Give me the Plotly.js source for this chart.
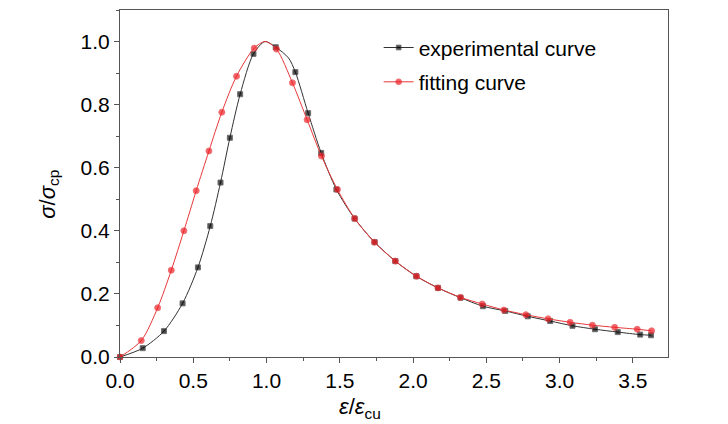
<!DOCTYPE html>
<html>
<head>
<meta charset="utf-8">
<script src="https://cdn.plot.ly/plotly-3.0.1.min.js"></script>
<style>
  html, body { margin: 0; padding: 0; background: #fff; }
  #myDiv { width: 728px; height: 424px; }
</style>
</head>
<body>
<div id="myDiv"></div>
<script>
// experimental curve (black squares); x values listed in lineOnly carry no marker
var expX = [0, 0.155, 0.30, 0.427, 0.532, 0.616, 0.686, 0.75, 0.82, 0.911, 0.99, 1.063, 1.15, 1.197,
            1.284, 1.373, 1.477, 1.601, 1.738, 1.879, 2.022, 2.17, 2.324, 2.477, 2.629, 2.783,
            2.936, 3.088, 3.242, 3.397, 3.55, 3.624];
var expY = [0, 0.028, 0.082, 0.17, 0.284, 0.415, 0.553, 0.695, 0.833, 0.961, 1.0, 0.982, 0.948, 0.903,
            0.773, 0.647, 0.531, 0.439, 0.364, 0.304, 0.256, 0.219, 0.188, 0.161, 0.146, 0.129,
            0.114, 0.099, 0.088, 0.079, 0.071, 0.069];
var expLineOnly = [0.99, 1.15];

// fitting curve (red circles)
var fitX = [0, 0.145, 0.257, 0.35, 0.436, 0.52, 0.607, 0.695, 0.795, 0.916, 0.99, 1.068, 1.177,
            1.277, 1.375, 1.484, 1.602, 1.736, 1.879, 2.024, 2.17, 2.324, 2.472, 2.62, 2.77,
            2.922, 3.072, 3.224, 3.376, 3.53, 3.628];
var fitY = [0, 0.052, 0.156, 0.275, 0.40, 0.527, 0.653, 0.776, 0.89, 0.979, 1.0, 0.976, 0.869,
            0.752, 0.637, 0.531, 0.439, 0.364, 0.304, 0.256, 0.219, 0.189, 0.168, 0.149, 0.134,
            0.121, 0.11, 0.101, 0.094, 0.088, 0.083];
var fitLineOnly = [0.99];

var xTitle = "<i>ε</i>/<i>ε</i><sub>cu</sub>";
var yTitle = "<i>σ</i>/<i>σ</i><sub>cp</sub>";

var font = "Liberation Sans, Arial, sans-serif";

function sizes(xs, skip, s) {
  return xs.map(function (x) { return skip.indexOf(x) >= 0 ? 0 : s; });
}

var trace1 = {
  x: expX,
  y: expY,
  mode: "lines+markers",
  name: "experimental curve",
  legendgroup: "exp",
  type: "scatter",
  cliponaxis: false,
  line: {color: "#333333", width: 1, shape: "spline", smoothing: 0.8},
  marker: {color: "#000000", symbol: "square", size: sizes(expX, expLineOnly, 5)}
};

var trace2 = {
  x: fitX,
  y: fitY,
  mode: "lines+markers",
  name: "fitting curve",
  legendgroup: "fit",
  type: "scatter",
  cliponaxis: false,
  line: {color: "#e8383a", width: 1, shape: "spline", smoothing: 0.8},
  marker: {color: "#ee1c24", symbol: "circle", size: sizes(fitX, fitLineOnly, 6)}
};

var data = [trace1, trace2];

var layout = {
  width: 728,
  height: 424,
  margin: {l: 120, r: 60, t: 10, b: 67},
  paper_bgcolor: "#fff",
  plot_bgcolor: "#fff",
  font: {family: font, size: 21, color: "#000"},
  showlegend: true,
  legend: {
    x: 0.472, y: 0.95, xanchor: "left", yanchor: "top",
    bgcolor: "rgba(0,0,0,0)",
    font: {family: font, size: 21, color: "#000"},
    tracegroupgap: 4
  },
  xaxis: {
    range: [0, 3.74],
    dtick: 0.5,
    tick0: 0,
    tickformat: ".1f",
    ticks: "outside",
    ticklen: 5,
    tickcolor: "#555",
    showline: true,
    linecolor: "#555",
    linewidth: 1,
    mirror: true,
    showgrid: false,
    zeroline: false,
    minor: {dtick: 0.25, ticks: "outside", ticklen: 3, tickcolor: "#555"},
    tickfont: {family: font, size: 21}
  },
  yaxis: {
    range: [0, 1.1],
    dtick: 0.2,
    tick0: 0,
    tickformat: ".1f",
    ticks: "outside",
    ticklen: 5,
    tickcolor: "#555",
    showline: true,
    linecolor: "#555",
    linewidth: 1,
    mirror: true,
    showgrid: false,
    zeroline: false,
    minor: {dtick: 0.1, ticks: "outside", ticklen: 3, tickcolor: "#555"},
    tickfont: {family: font, size: 21}
  },
  annotations: [
    {text: xTitle, xref: "paper", yref: "paper", x: 0.438, y: -0.146,
     xanchor: "center", yanchor: "middle", showarrow: false,
     font: {family: font, size: 22, color: "#000"}},
    {text: yTitle, xref: "paper", yref: "paper", x: -0.13, y: 0.47, textangle: -90,
     xanchor: "center", yanchor: "middle", showarrow: false,
     font: {family: font, size: 22, color: "#000"}}
  ]
};

Plotly.newPlot('myDiv', data, layout, {staticPlot: true});
</script>
</body>
</html>
